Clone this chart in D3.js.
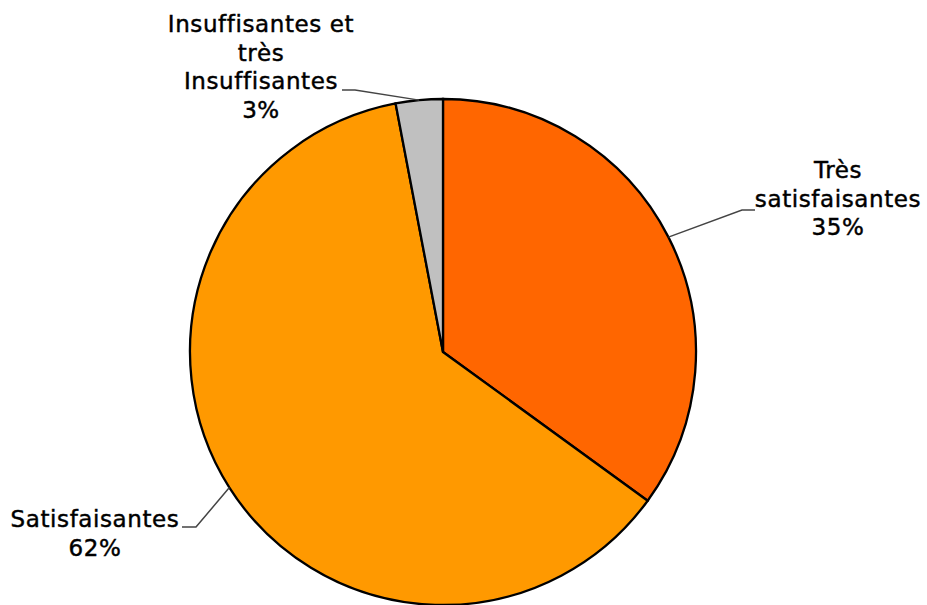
<!DOCTYPE html>
<html>
<head>
<meta charset="utf-8">
<script src="https://cdn.jsdelivr.net/npm/d3@7"></script>
<style>
  body { margin: 0; background: #fff; }
  text { font-family: "DejaVu Sans", Verdana, sans-serif; font-size: 23px; letter-spacing: 0.6px; fill: #000; stroke: #000; stroke-width: 0.45px; }
</style>
</head>
<body>
<div id="chart"></div>
<script>
// data
const categories = ["Très satisfaisantes", "Satisfaisantes", "Insuffisantes et très insuffisantes"];
const values = [35, 62, 3];
const labelLines = [
    ["Très", "satisfaisantes", "35%"],
    ["Satisfaisantes", "62%"],
    ["Insuffisantes et", "très", "Insuffisantes", "3%"]
];
const colors = ["#FF6600", "#FF9900", "#C0C0C0"];

// label placement (center x, first baseline, elbow point)
const labelPos = [
    {x: 838, y: 178, ex: 742, ey: 210, ux: 755},
    {x: 95, y: 527, ex: 196, ey: 527, ux: 182},
    {x: 261, y: 32, ex: 355, ey: 90, ux: 342}
];

const width = 927, height = 605;
const cx = 443, cy = 352, r = 253;
const lineH = 28.6;

const svg = d3.select("#chart").append("svg")
    .attr("width", width)
    .attr("height", height);

const g = svg.append("g")
    .attr("transform", `translate(${cx}, ${cy})`);

const pie = d3.pie().sort(null).value(d => d);
const arc = d3.arc().innerRadius(0).outerRadius(r);
const arcs = pie(values);

g.selectAll("path.slice")
    .data(arcs)
    .enter().append("path")
    .attr("class", "slice")
    .attr("d", arc)
    .style("fill", (d, i) => colors[i])
    .style("stroke", "#000")
    .style("stroke-width", 2.3);

// leader lines
arcs.forEach((d, i) => {
    let mid = (d.startAngle + d.endAngle) / 2;
    let px = cx + r * Math.sin(mid), py = cy - r * Math.cos(mid);
    let p = labelPos[i];
    svg.append("polyline")
        .attr("points", `${px},${py} ${p.ex},${p.ey} ${p.ux},${p.ey}`)
        .style("fill", "none")
        .style("stroke", "#444")
        .style("stroke-width", 1.5);
});

// labels
labelLines.forEach((lines, i) => {
    let p = labelPos[i];
    let t = svg.append("text")
        .attr("text-anchor", "middle");
    lines.forEach((s, j) => {
        t.append("tspan")
            .attr("x", p.x)
            .attr("y", p.y + j * lineH)
            .text(s);
    });
});
</script>
</body>
</html>
